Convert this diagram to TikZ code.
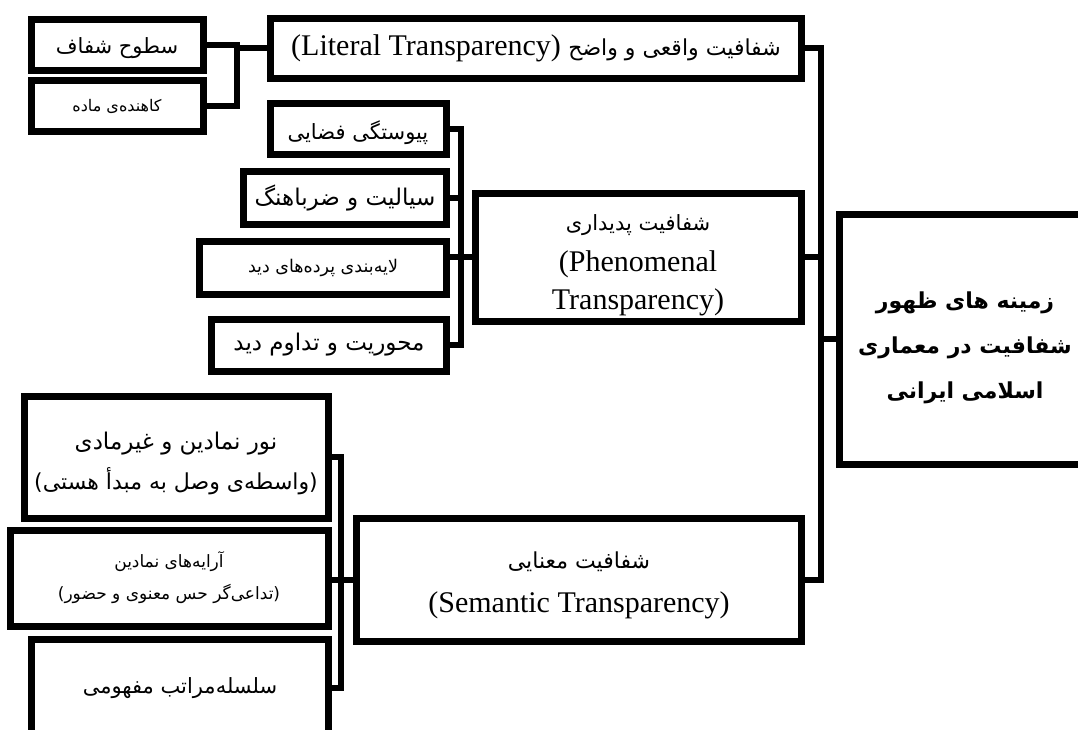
\documentclass[tikz,border=0pt]{standalone}
\usepackage{fontspec}
\setmainfont{Liberation Serif}
\newfontfamily\farsi[Script=Arabic]{DejaVu Sans}
\TeXXeTstate=1
\newcommand{\fa}[1]{{\farsi\beginR #1\endR}}
\newcommand{\fs}[2]{\fontsize{#1}{#2}\selectfont}
\newcommand{\lift}[1]{\rule{0pt}{#1}}
\tikzset{
  box/.style={draw, line width=7pt, inner sep=0pt, align=center},
  conn/.style={line width=6pt},
}
\begin{document}
\begin{tikzpicture}[x=1pt,y=-1pt]
\useasboundingbox (0,0) rectangle (1078,729);

% main box
\node[box, minimum width=252pt, minimum height=250pt, font=\fs{22}{45}\bfseries] (main) at (965,339)
  {\lift{34pt}\fa{زمینه های ظهور}\\\fa{شفافیت در معماری}\\\fa{اسلامی ایرانی}};

% literal transparency
\node[box, minimum width=531pt, minimum height=60pt] (lit) at (536,48)
  {\fs{30}{32}(Literal Transparency)\ \fs{22}{32}\fa{شفافیت واقعی و واضح}};
\node[box, font=\fs{21}{30}, minimum width=172pt, minimum height=51pt] (lit1) at (117,45) {\lift{22pt}\fa{سطوح شفاف}};
\node[box, font=\fs{16}{30}, minimum width=172pt, minimum height=51pt] (lit2) at (117,106) {\fa{کاهنده‌ی ماده}};

% phenomenal transparency
\node[box, minimum width=326pt, minimum height=128pt, font=\fs{30}{38}] (phen) at (638,257)
  {\lift{33pt}\fs{21}{38}\fa{شفافیت پدیداری}\\[3pt]\fs{30}{38}(Phenomenal\\Transparency)};
\node[box, font=\fs{21}{30}, minimum width=176pt, minimum height=51pt] (phen1) at (358,129) {\lift{26pt}\fa{پیوستگی فضایی}};
\node[box, font=\fs{23}{30}, minimum width=203pt, minimum height=53pt] (phen2) at (345,198) {\fa{سیالیت و ضرباهنگ}};
\node[box, font=\fs{17.5}{30}, minimum width=247pt, minimum height=53pt] (phen3) at (323,268) {\fa{لایه‌بندی پرده‌های دید}};
\node[box, font=\fs{23}{30}, minimum width=235pt, minimum height=52pt] (phen4) at (329,345) {\fa{محوریت و تداوم دید}};

% semantic transparency
\node[box, minimum width=445pt, minimum height=123pt, font=\fs{30}{44}] (sem) at (579,580)
  {\lift{28pt}\fs{22}{44}\fa{شفافیت معنایی}\\\fs{30}{44}(Semantic Transparency)};
\node[box, minimum width=304pt, minimum height=122pt, font=\fs{23}{40}] (sem1) at (176,457)
  {\lift{31pt}\fa{نور نمادین و غیرمادی}\\\fs{22}{40}\fa{(واسطه‌ی وصل به مبدأ هستی)}};
\node[box, minimum width=318pt, minimum height=96pt, font=\fs{17}{32}] (sem2) at (169,578)
  {\fa{آرایه‌های نمادین}\\\fa{(تداعی‌گر حس معنوی و حضور)}};
\node[box, font=\fs{21}{30}, minimum width=297pt, minimum height=97pt] (sem3) at (180,688) {\fa{سلسله‌مراتب مفهومی}};

% buses
\coordinate (litbus) at (237,0);
\coordinate (phenbus) at (461,0);
\coordinate (sembus) at (341,0);
\coordinate (trunk) at (821,0);

\draw[conn] (lit1.east) -| (litbus |- lit2.east) -- (lit2.east);
\draw[conn] (lit.west) -- (litbus |- lit.west);

\draw[conn] (phen1.east) -| (phenbus |- phen4.east) -- (phen4.east);
\draw[conn] (phen2.east) -- (phenbus |- phen2.east);
\draw[conn] (phen.west) -- (phen3.east |- phen.west);

\draw[conn] (sem1.east) -| (sembus |- sem3.east) -- (sem3.east);
\draw[conn] (sem.west) -- (sem2.east |- sem.west);

\draw[conn] (lit.east) -| (trunk |- sem.east) -- (sem.east);
\draw[conn] (phen.east) -- (trunk |- phen.east);
\draw[conn] (main.west) -- (trunk |- main.west);
\end{tikzpicture}
\end{document}
